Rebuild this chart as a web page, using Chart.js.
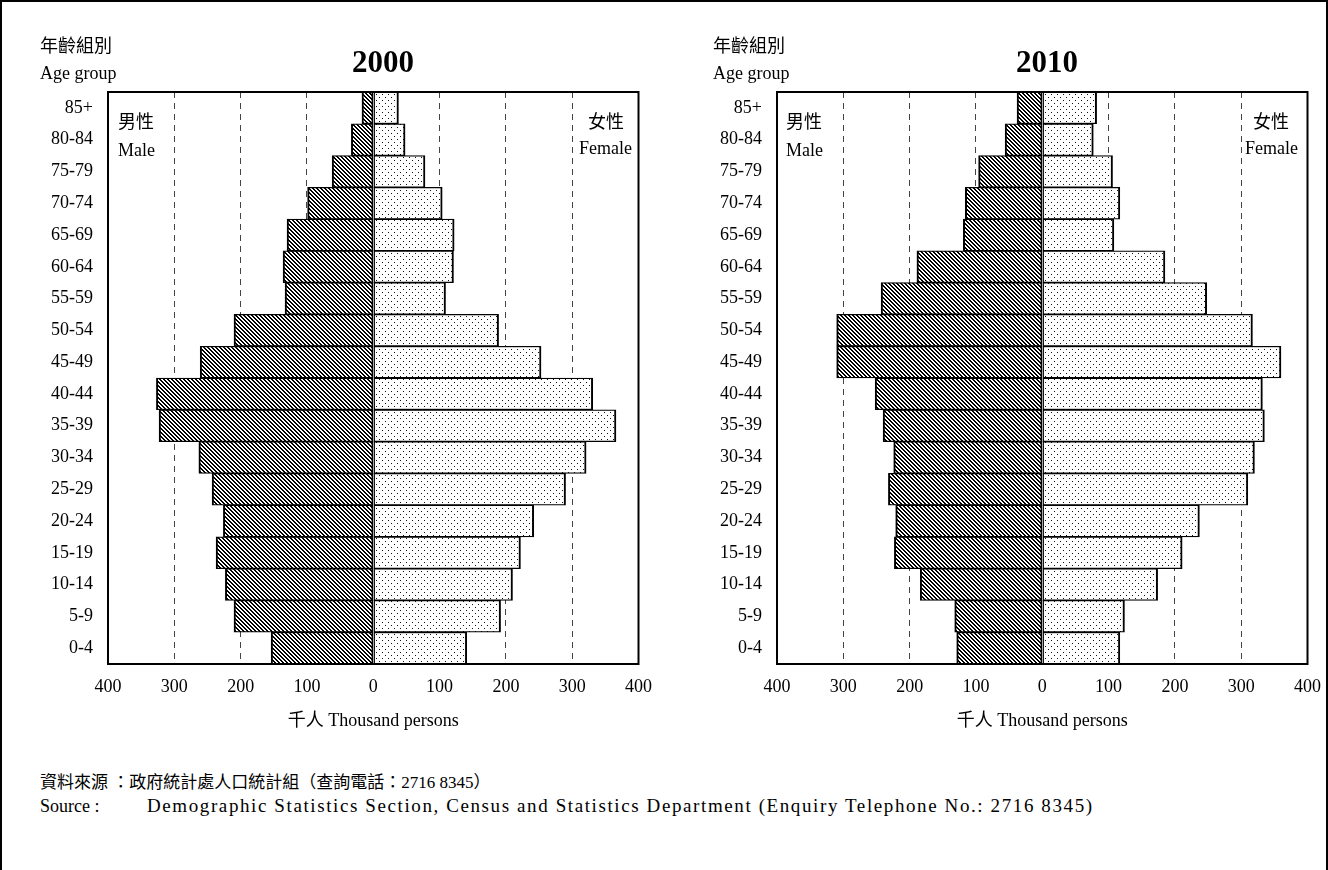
<!DOCTYPE html>
<html>
<head>
<meta charset="utf-8">
<script src="https://cdn.jsdelivr.net/npm/chart.js@4.4.0/dist/chart.umd.min.js"></script>
<style>
  html, body { margin: 0; padding: 0; background: #fff; }
  body {
    width: 1328px; height: 870px; position: relative; overflow: hidden;
    font-family: "Liberation Serif", "Noto Sans CJK TC", serif; color: #000;
  }
  #frame {
    position: absolute; left: 0; top: 0; width: 1328px; height: 900px;
    border: 2px solid #000; border-bottom: none; box-sizing: border-box;
  }
  .t { position: absolute; white-space: nowrap; font-size: 18px; line-height: 1; }
  .yr { position: absolute; font-size: 31px; font-weight: bold; line-height: 1; transform: translateX(-50%); }
  canvas { position: absolute; }
</style>
</head>
<body>
<div id="frame"></div>

<canvas id="c2000" width="664" height="740" style="left:0;top:0"></canvas>
<canvas id="c2010" width="664" height="740" style="left:669px;top:0"></canvas>

<!-- 2000 panel headings -->
<div class="t" style="left:40px;top:37px">年齡組別</div>
<div class="t" style="left:40px;top:64px">Age group</div>
<div class="yr" style="left:383px;top:46px">2000</div>
<div class="t" style="left:118px;top:113px">男性</div>
<div class="t" style="left:118px;top:141px">Male</div>
<div class="t" style="right:704px;top:113px">女性</div>
<div class="t" style="right:696px;top:139px">Female</div>

<!-- 2010 panel headings -->
<div class="t" style="left:713px;top:37px">年齡組別</div>
<div class="t" style="left:713px;top:64px">Age group</div>
<div class="yr" style="left:1047px;top:46px">2010</div>
<div class="t" style="left:786px;top:113px">男性</div>
<div class="t" style="left:786px;top:141px">Male</div>
<div class="t" style="right:39px;top:113px">女性</div>
<div class="t" style="right:30px;top:139px">Female</div>

<!-- source note -->
<div class="t" style="left:40px;top:774px;font-size:17px">資料來源 ：政府統計處人口統計組（查詢電話：2716 8345）</div>
<div class="t" style="left:40px;top:797px">Source :</div>
<div class="t" style="left:147px;top:796px;font-size:19px;letter-spacing:1.6px">Demographic Statistics Section, Census and Statistics Department (Enquiry Telephone No.: 2716 8345)</div>

<script>
// Age groups, oldest at the top
const AGE_GROUPS = ['85+', '80-84', '75-79', '70-74', '65-69', '60-64', '55-59', '50-54', '45-49',
                    '40-44', '35-39', '30-34', '25-29', '20-24', '15-19', '10-14', '5-9', '0-4'];

// Population in thousands, 2000
const MALE_2000   = [17, 33, 62, 99, 130, 136, 133, 210, 261, 327, 323, 263, 243, 226, 237, 223, 210, 154];
const FEMALE_2000 = [38, 48, 78, 104, 122, 121, 109, 189, 253, 331, 366, 321, 290, 242, 222, 210, 192, 141];

// Population in thousands, 2010
const MALE_2010   = [38, 56, 96, 116, 119, 189, 243, 310, 310, 252, 240, 224, 232, 221, 223, 184, 132, 129];
const FEMALE_2010 = [82, 77, 106, 117, 108, 185, 248, 317, 360, 332, 335, 320, 310, 237, 211, 174, 124, 117];

// Axis ticks (thousand persons)
const X_TICKS = [-400, -300, -200, -100, 0, 100, 200, 300, 400];

// Fill patterns: diagonal hatching for males, fine dots for females
function makeTile(size, paint) {
  const c = document.createElement('canvas');
  c.width = size; c.height = size;
  const g = c.getContext('2d');
  g.fillStyle = '#fff';
  g.fillRect(0, 0, size, size);
  paint(g);
  return document.createElement('canvas').getContext('2d').createPattern(c, 'repeat');
}
const hatch = makeTile(4, g => {
  g.fillStyle = '#000';
  for (let y = 0; y < 4; y++) {
    for (let x = 0; x < 4; x++) {
      if (((x - y + 8) % 4) < 2) g.fillRect(x, y, 1, 1);
    }
  }
});
const dots = makeTile(6, g => {
  g.fillStyle = '#111';
  g.fillRect(1, 1, 1, 1);
  g.fillRect(4, 4, 1, 1);
});

const FONT = { family: '"Liberation Serif", "Noto Sans CJK TC", serif', size: 18 };

// Draws the solid frame round the plotting area
const plotFrame = {
  id: 'plotFrame',
  afterDatasetsDraw(chart) {
    const { ctx, chartArea: a } = chart;
    ctx.save();
    ctx.lineWidth = 2;
    ctx.strokeStyle = '#000';
    ctx.strokeRect(a.left, a.top, a.right - a.left, a.bottom - a.top);
    ctx.restore();
  }
};

function pyramid(canvasId, male, female) {
  return new Chart(document.getElementById(canvasId), {
    type: 'bar',
    data: {
      labels: AGE_GROUPS,
      datasets: [
        {
          label: '男性 Male',
          data: male.map(v => -v),
          backgroundColor: hatch,
          borderColor: '#000',
          borderWidth: { top: 1.25, bottom: 1.25, left: 2, right: 1.5 },
          borderSkipped: false,
          barPercentage: 1,
          categoryPercentage: 1
        },
        {
          label: '女性 Female',
          data: female,
          backgroundColor: dots,
          borderColor: '#000',
          borderWidth: { top: 1.25, bottom: 1.25, left: 1.5, right: 2 },
          borderSkipped: false,
          barPercentage: 1,
          categoryPercentage: 1
        }
      ]
    },
    options: {
      indexAxis: 'y',
      responsive: false,
      animation: false,
      devicePixelRatio: 1,
      layout: { padding: { left: 48, right: 25, top: 92, bottom: 8 } },
      plugins: { legend: { display: false }, tooltip: { enabled: false } },
      scales: {
        x: {
          stacked: true,
          min: X_TICKS[0],
          max: X_TICKS[X_TICKS.length - 1],
          afterBuildTicks: s => { s.ticks = X_TICKS.map(v => ({ value: v })); },
          ticks: {
            callback: v => String(Math.abs(v)),
            font: FONT, color: '#000', padding: 12, maxRotation: 0, autoSkip: false
          },
          grid: {
            drawTicks: false,
            lineWidth: 1,
            color: c => {
              const v = Math.abs(c.tick ? c.tick.value : 0);
              return (v > 0 && v < 400) ? '#444' : 'rgba(0,0,0,0)';
            }
          },
          border: { display: false, dash: [6, 5] },
          title: { display: true, text: '千人 Thousand persons', font: FONT, color: '#000', padding: 0 },
          afterFit: s => { s.height = 68; }
        },
        y: {
          stacked: true,
          ticks: { font: FONT, color: '#000', padding: 15, autoSkip: false },
          grid: { display: false, drawTicks: false },
          border: { display: false },
          afterFit: s => { s.width = 60; }
        }
      }
    },
    plugins: [plotFrame]
  });
}

pyramid('c2000', MALE_2000, FEMALE_2000);
pyramid('c2010', MALE_2010, FEMALE_2010);
</script>
</body>
</html>
